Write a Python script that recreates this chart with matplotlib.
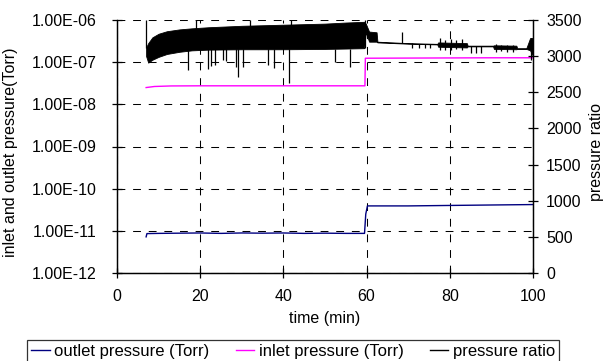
import matplotlib
matplotlib.use('Agg')
import matplotlib.pyplot as plt
from matplotlib.ticker import FixedLocator, FuncFormatter

plt.rcParams['font.family'] = ['Liberation Sans', 'DejaVu Sans']
plt.rcParams['font.size'] = 11.5

# outlet pressure (Torr)
outlet_t = [7.0, 7.2, 10, 15, 20, 25, 30, 35, 40, 45, 50, 55, 59.5, 59.8, 60.2, 65, 70, 80, 90, 100]
outlet_p = [7.2e-12, 8.6e-12, 8.7e-12, 8.8e-12, 8.9e-12, 8.7e-12, 8.9e-12, 8.8e-12, 8.9e-12,
            8.7e-12, 8.8e-12, 8.7e-12, 8.7e-12, 2.5e-11, 3.9e-11, 3.9e-11, 3.9e-11, 4.0e-11,
            4.1e-11, 4.2e-11]

# inlet pressure (Torr)
inlet_t = [7.0, 9, 13, 20, 30, 40, 50, 59.6, 59.7, 70, 80, 90, 100]
inlet_p = [2.5e-8, 2.65e-8, 2.73e-8, 2.75e-8, 2.75e-8, 2.75e-8, 2.75e-8, 2.75e-8,
           1.24e-7, 1.25e-7, 1.26e-7, 1.27e-7, 1.27e-7]

# pressure ratio: dense oscillating band (low / high envelope)
band_t = [7.0, 7.5, 8.5, 10, 12, 15, 18, 22, 30, 40, 50, 55, 59.4,
          59.8, 60.6, 62.4, 62.6, 70, 77.0, 77.2, 84.1, 84.3, 90.4, 90.6,
          96.0, 96.2, 98.4, 99.3, 100]
band_lo = [3000, 2910, 2950, 2990, 3030, 3060, 3080, 3090, 3095, 3095, 3100, 3105, 3110,
           3330, 3200, 3200, 3190, 3172, 3162, 3130, 3120, 3135, 3135, 3100,
           3095, 3100, 3100, 3080, 3000]
band_hi = [3120, 3180, 3260, 3310, 3345, 3370, 3385, 3400, 3420, 3435, 3450, 3465, 3475,
           3450, 3340, 3330, 3200, 3180, 3170, 3190, 3180, 3145, 3145, 3150,
           3145, 3110, 3110, 3250, 3250]

# isolated spikes of the pressure ratio trace
spike_t = [7.0, 17.0, 18.9, 21.8, 22.6, 23.5, 25.4, 26.2, 28.6, 29.0, 30.2, 32.0,
           36.3, 37.7, 41.4, 41.9, 52.3, 56.0, 59.6, 68.4, 71.0, 72.5, 74.0, 75.3,
           77.6, 78.8, 80.3, 81.5, 83.0, 85.0, 86.2, 87.5, 91.0, 92.4, 93.8, 95.2, 99.6]
spike_lo = [3110, 2808, 3380, 2817, 2870, 2880, 2946, 2930, 2850, 2715, 2853, 3410,
            2877, 2831, 2623, 3430, 2922, 2853, 3110, 3180, 3107, 3107, 3107, 3107,
            3084, 3090, 3084, 3095, 3088, 3038, 3038, 3038, 3060, 3065, 3060, 3062, 2946]
spike_hi = [3500, 3090, 3500, 3092, 3092, 3093, 3094, 3094, 3095, 3095, 3095, 3500,
            3097, 3097, 3098, 3500, 3102, 3105, 3500, 3337, 3175, 3172, 3170, 3170,
            3245, 3230, 3240, 3220, 3235, 3140, 3140, 3140, 3162, 3155, 3160, 3150, 3250]

xticks = [0, 20, 40, 60, 80, 100]
left_ticks = [1e-12, 1e-11, 1e-10, 1e-9, 1e-8, 1e-7, 1e-6]
right_ticks = [0, 500, 1000, 1500, 2000, 2500, 3000, 3500]

fig = plt.figure(figsize=(6.05, 3.61), dpi=100)
ax = fig.add_axes([117 / 605, 88 / 361, 416 / 605, 253 / 361])
ax2 = ax.twinx()

ax.plot(outlet_t, outlet_p, color='#000080', lw=1.0)
ax.plot(inlet_t, inlet_p, color='#ff00ff', lw=1.0)
ax.set_yscale('log')
ax.set_ylim(1e-12, 1e-6)
ax.set_xlim(0, 100)
ax.yaxis.set_major_locator(FixedLocator(left_ticks))
ax.yaxis.set_minor_locator(FixedLocator([]))
ax.yaxis.set_major_formatter(FuncFormatter(lambda v, p: '%.2E' % v))
ax.set_xticks(xticks)
ax.grid(True, color='black', lw=0.75, linestyle=(0, (7.5, 7.5)))
ax.tick_params(axis='y', direction='inout', length=7, width=0.9, pad=11)
ax.tick_params(axis='x', direction='inout', length=7, width=0.9, pad=8)
ax.set_xlabel('time (min)', labelpad=5)

ax2.fill_between(band_t, band_lo, band_hi, color='black', lw=0.6)
ax2.vlines(spike_t, spike_lo, spike_hi, color='black', lw=0.9)
ax2.set_ylim(0, 3500)
ax2.set_yticks(right_ticks)
ax2.tick_params(direction='inout', length=7, width=0.9, pad=6)

fig.text(11 / 605, 1 - 152 / 361, 'inlet and outlet pressure(Torr)', rotation=90,
         ha='center', va='center')
fig.text(597 / 605, 1 - 152 / 361, 'pressure ratio', rotation=90,
         ha='center', va='center')

for a in (ax, ax2):
    a.spines['top'].set_visible(False)
    for s in ('left', 'bottom', 'right'):
        a.spines[s].set_linewidth(0.9)

handles = [plt.Line2D([], [], color='#000080', lw=1.0),
           plt.Line2D([], [], color='#ff00ff', lw=1.0),
           plt.Line2D([], [], color='black', lw=1.0)]
labels = ['outlet pressure (Torr)', 'inlet pressure (Torr)', 'pressure ratio']
leg = fig.legend(handles, labels, loc='upper left', bbox_to_anchor=(27 / 605, 21 / 361),
                 ncol=3, frameon=True, fancybox=False, handlelength=1.1, fontsize=12,
                 handletextpad=0.3, columnspacing=1.55, borderpad=0.25, borderaxespad=0)
leg.get_frame().set_edgecolor('black')
leg.get_frame().set_linewidth(0.9)

fig.savefig('out.png', dpi=100)
